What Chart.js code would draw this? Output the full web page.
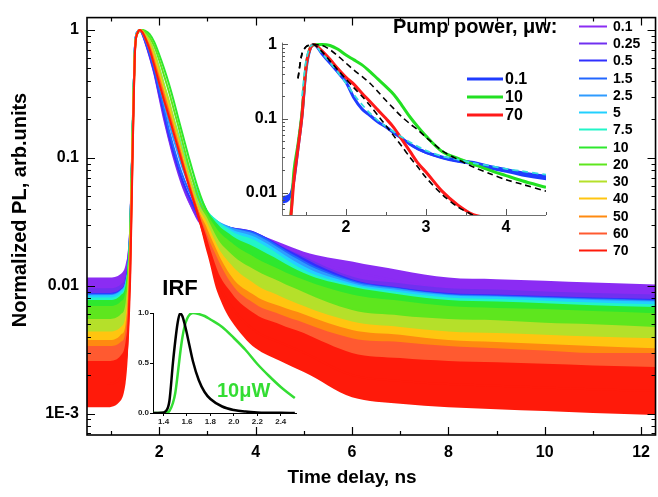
<!DOCTYPE html>
<html>
<head>
<meta charset="utf-8">
<script src="https://cdn.jsdelivr.net/npm/chart.js@4.4.1/dist/chart.umd.min.js"></script>
<style>
  html, body { margin: 0; padding: 0; background: #fff; overflow: hidden; }
  #wrap { position: relative; width: 658px; height: 497px; }
  canvas { position: absolute; }
  #main { left: 0; top: 0; }
  #inset { left: 230px; top: 28px; }
  #irf { left: 118px; top: 303px; }
</style>
</head>
<body>
<div id="wrap">
  <canvas id="main" width="658" height="497"></canvas>
  <canvas id="inset" width="322" height="212"></canvas>
  <canvas id="irf" width="182" height="125"></canvas>
</div>
<script>
const FONT = '"Liberation Sans", Arial, Helvetica, sans-serif';

// main panel: time delay (ns) and normalized PL for each pump power
const delays = [0.5, 0.9, 1.2, 1.3, 1.35, 1.4, 1.45, 1.5, 1.55, 1.6, 1.65, 1.7, 1.8, 1.9, 2.0, 2.1, 2.2, 2.3, 2.4, 2.5, 2.6, 2.8, 3.0, 3.2, 3.5, 4.0, 4.5, 5.0, 6.0, 7.0, 8.0, 9.0, 10.0, 11.0, 12.3];
const powers = ['0.1', '0.25', '0.5', '1.5', '2.5', '5', '7.5', '10', '20', '30', '40', '50', '60', '70'];
const colors = ['#8b2cf3', '#7030f0', '#3030ff', '#2266ff', '#2e9bff', '#22d0ff', '#22f5c8', '#2ee82e', '#5ee61e', '#b5e02a', '#ffc510', '#ff8a10', '#ff5a30', '#ff1a0a'];

const pl01 = [0.0093, 0.0093, 0.0100, 0.0120, 0.016, 0.030, 0.17, 0.80, 0.97, 1.0, 0.93, 0.82, 0.62, 0.45, 0.30, 0.20, 0.14, 0.10, 0.075, 0.058, 0.047, 0.034, 0.029, 0.027, 0.026, 0.023, 0.019, 0.0158, 0.0129, 0.0108, 0.0093, 0.0090, 0.0087, 0.0084, 0.0081];
const pl025 = [0.0075, 0.0075, 0.0081, 0.0098, 0.014, 0.029, 0.17, 0.80, 0.97, 1.0, 0.93, 0.83, 0.63, 0.46, 0.31, 0.21, 0.145, 0.105, 0.078, 0.060, 0.049, 0.035, 0.029, 0.027, 0.026, 0.0235, 0.018, 0.0144, 0.0095, 0.0083, 0.0075, 0.0073, 0.0070, 0.0068, 0.0066];
const pl05 = [0.0068, 0.0068, 0.0074, 0.0090, 0.013, 0.028, 0.17, 0.79, 0.97, 1.0, 0.94, 0.84, 0.64, 0.47, 0.32, 0.22, 0.15, 0.11, 0.082, 0.064, 0.052, 0.037, 0.031, 0.028, 0.026, 0.0235, 0.018, 0.0139, 0.0090, 0.0076, 0.0068, 0.0066, 0.0064, 0.0062, 0.0060];
const pl15 = [0.0067, 0.0067, 0.0073, 0.0088, 0.013, 0.028, 0.17, 0.79, 0.97, 1.0, 0.95, 0.85, 0.66, 0.49, 0.34, 0.24, 0.165, 0.12, 0.09, 0.07, 0.057, 0.040, 0.033, 0.029, 0.026, 0.0232, 0.0175, 0.0132, 0.0088, 0.0075, 0.0067, 0.0065, 0.0063, 0.0061, 0.0059];
const pl25 = [0.0066, 0.0066, 0.0072, 0.0087, 0.012, 0.027, 0.17, 0.79, 0.97, 1.0, 0.96, 0.87, 0.70, 0.53, 0.38, 0.27, 0.19, 0.14, 0.105, 0.08, 0.064, 0.044, 0.035, 0.030, 0.026, 0.0224, 0.0168, 0.0126, 0.0086, 0.0074, 0.0066, 0.0064, 0.0062, 0.0060, 0.0058];
const pl5 = [0.0065, 0.0065, 0.0071, 0.0086, 0.012, 0.027, 0.17, 0.78, 0.97, 1.0, 0.97, 0.90, 0.75, 0.58, 0.43, 0.31, 0.22, 0.16, 0.12, 0.09, 0.072, 0.048, 0.036, 0.030, 0.025, 0.0212, 0.0158, 0.0117, 0.0083, 0.0072, 0.0065, 0.0063, 0.0061, 0.0059, 0.0057];
const pl75 = [0.0062, 0.0062, 0.0068, 0.0082, 0.012, 0.027, 0.18, 0.77, 0.96, 0.99, 0.99, 0.95, 0.82, 0.66, 0.50, 0.37, 0.27, 0.20, 0.15, 0.11, 0.085, 0.053, 0.037, 0.030, 0.024, 0.0198, 0.0147, 0.0109, 0.0080, 0.0069, 0.0062, 0.0060, 0.0058, 0.0056, 0.0054];
const pl10 = [0.0059, 0.0059, 0.0065, 0.0079, 0.012, 0.027, 0.19, 0.75, 0.94, 0.98, 1.0, 0.99, 0.93, 0.80, 0.64, 0.50, 0.38, 0.28, 0.20, 0.145, 0.105, 0.058, 0.037, 0.028, 0.022, 0.0172, 0.0132, 0.0102, 0.0077, 0.0066, 0.0059, 0.0057, 0.0055, 0.0053, 0.0051];
const pl20 = [0.0052, 0.0052, 0.0057, 0.0070, 0.011, 0.025, 0.18, 0.76, 0.95, 0.99, 1.0, 0.97, 0.88, 0.74, 0.58, 0.44, 0.33, 0.24, 0.175, 0.125, 0.09, 0.05, 0.034, 0.025, 0.019, 0.0139, 0.011, 0.0089, 0.0066, 0.0058, 0.0052, 0.0050, 0.0049, 0.0047, 0.0045];
const pl30 = [0.0040, 0.0040, 0.0044, 0.0055, 0.009, 0.022, 0.16, 0.76, 0.96, 1.0, 0.98, 0.93, 0.82, 0.66, 0.50, 0.37, 0.28, 0.20, 0.145, 0.105, 0.077, 0.044, 0.031, 0.021, 0.015, 0.0108, 0.0086, 0.0069, 0.0048, 0.0043, 0.0040, 0.0039, 0.0037, 0.0036, 0.0034];
const pl40 = [0.0031, 0.0031, 0.0034, 0.0043, 0.007, 0.019, 0.15, 0.75, 0.95, 1.0, 0.97, 0.90, 0.77, 0.60, 0.45, 0.33, 0.25, 0.18, 0.13, 0.095, 0.07, 0.04, 0.028, 0.018, 0.012, 0.0081, 0.0064, 0.0052, 0.0038, 0.0034, 0.0031, 0.0030, 0.0029, 0.0028, 0.0027];
const pl50 = [0.0026, 0.0026, 0.0029, 0.0036, 0.006, 0.017, 0.14, 0.74, 0.95, 1.0, 0.96, 0.89, 0.74, 0.56, 0.42, 0.31, 0.23, 0.17, 0.125, 0.09, 0.067, 0.038, 0.025, 0.016, 0.0095, 0.0064, 0.0052, 0.0044, 0.0032, 0.0029, 0.0026, 0.0025, 0.0024, 0.0023, 0.0022];
const pl60 = [0.0023, 0.0023, 0.0025, 0.0031, 0.005, 0.015, 0.13, 0.73, 0.95, 1.0, 0.96, 0.88, 0.72, 0.54, 0.40, 0.295, 0.22, 0.16, 0.12, 0.088, 0.065, 0.037, 0.022, 0.014, 0.0082, 0.0054, 0.0044, 0.0037, 0.0027, 0.0025, 0.0023, 0.0022, 0.0021, 0.0020, 0.0020];
const pl70 = [0.0017, 0.0017, 0.0019, 0.0025, 0.004, 0.013, 0.12, 0.72, 0.95, 1.0, 0.96, 0.88, 0.70, 0.52, 0.38, 0.28, 0.21, 0.155, 0.115, 0.085, 0.063, 0.036, 0.020, 0.011, 0.0068, 0.0044, 0.0036, 0.0030, 0.0020, 0.0018, 0.0017, 0.00165, 0.0016, 0.00155, 0.0015];
const plSeries = [pl01, pl025, pl05, pl15, pl25, pl5, pl75, pl10, pl20, pl30, pl40, pl50, pl60, pl70];

const xTicks = [2, 4, 6, 8, 10, 12];
const xMinorTicks = [1, 3, 5, 7, 9, 11];
const yTicks = [0.001, 0.01, 0.1, 1];
const yTickLabels = ['1E-3', '0.01', '0.1', '1'];

// upper inset: 0.1, 10 and 70 uW traces with fits
const insetDelays = [1.2, 1.3, 1.35, 1.4, 1.45, 1.5, 1.55, 1.6, 1.7, 1.8, 1.9, 2.0, 2.1, 2.2, 2.3, 2.4, 2.5, 2.6, 2.7, 2.8, 2.9, 3.0, 3.2, 3.4, 3.6, 3.8, 4.0, 4.2, 4.5];
const inset01 = [0.008, 0.009, 0.015, 0.04, 0.11, 0.45, 0.86, 1.0, 0.75, 0.56, 0.42, 0.31, 0.19, 0.135, 0.11, 0.09, 0.077, 0.064, 0.054, 0.045, 0.039, 0.035, 0.030, 0.027, 0.025, 0.022, 0.020, 0.018, 0.016];
const inset10 = [0.003, 0.004, 0.02, 0.045, 0.12, 0.5, 0.88, 0.99, 1.0, 0.97, 0.86, 0.72, 0.62, 0.53, 0.43, 0.34, 0.27, 0.21, 0.15, 0.105, 0.077, 0.058, 0.036, 0.029, 0.024, 0.020, 0.017, 0.0145, 0.0118];
const inset70 = [0.003, 0.004, 0.015, 0.04, 0.11, 0.5, 0.87, 1.0, 0.82, 0.63, 0.47, 0.36, 0.29, 0.22, 0.17, 0.13, 0.10, 0.075, 0.052, 0.036, 0.025, 0.019, 0.0105, 0.0068, 0.005, 0.0046, 0.004, null, null];
const fit10 = [null, null, null, 0.35, 0.75, 0.93, 0.99, 1.0, 0.97, 0.85, 0.70, 0.56, 0.45, 0.37, 0.30, 0.23, 0.175, 0.135, 0.105, 0.085, 0.07, 0.056, 0.037, 0.028, 0.022, 0.018, 0.015, 0.013, 0.0105];
const fit70 = [null, null, null, 0.35, 0.75, 0.93, 0.99, 1.0, 0.80, 0.60, 0.45, 0.34, 0.26, 0.20, 0.15, 0.11, 0.08, 0.058, 0.042, 0.030, 0.022, 0.016, 0.0095, 0.0064, 0.0049, null, null, null, null];
const fit01 = [null, null, null, null, 0.2, 0.6, 0.92, 1.0, 0.76, 0.57, 0.42, 0.30, 0.21, 0.155, 0.118, 0.094, 0.078, 0.066, 0.056, 0.048, 0.042, 0.037, 0.031, 0.028, 0.025, 0.023, 0.021, 0.0195, 0.0175];
const insetLegend = ['0.1', '10', '70'];
const insetColors = ['#1f3cff', '#22e022', '#ff1a1a'];

// lower inset: IRF and 10 uW trace, linear scale
const irfDelays = [1.31, 1.38, 1.42, 1.45, 1.48, 1.5, 1.52, 1.54, 1.56, 1.58, 1.6, 1.62, 1.65, 1.7, 1.75, 1.8, 1.9, 2.0, 2.1, 2.2, 2.3, 2.4, 2.52];
const irf = [0, 0.003, 0.02, 0.12, 0.5, 0.72, 0.9, 0.995, 0.97, 0.89, 0.79, 0.68, 0.52, 0.33, 0.21, 0.14, 0.065, 0.03, 0.014, 0.006, 0.003, 0.0015, 0.001];
const irf10 = [0, 0, 0.003, 0.02, 0.1, 0.2, 0.38, 0.58, 0.75, 0.87, 0.94, 0.98, 1.0, 0.99, 0.97, 0.935, 0.86, 0.75, 0.63, 0.49, 0.37, 0.26, 0.15];
const irfXTicks = [1.4, 1.6, 1.8, 2.0, 2.2, 2.4];
const irfYTicks = [0, 0.5, 1.0];

function points(xs, ys) {
  return xs.map((x, i) => ({ x, y: ys[i] }));
}

// counting noise: a vertical band round each trace, wider where the signal is low
function noiseHalf(noise, v) {
  return v > 0 && v < noise.ref ? 0.5 * noise.k * Math.log10(noise.ref / v) : 0;
}

const noiseBands = {
  id: 'noiseBands',
  beforeDatasetDraw(chart, args) {
    const ds = chart.data.datasets[args.index];
    if (!ds.noise) return;
    const pts = args.meta.data;
    const h = ds.data.map(d => noiseHalf(ds.noise, d.y));
    const a = chart.chartArea;
    const ctx = chart.ctx;
    ctx.save();
    ctx.beginPath();
    ctx.rect(a.left, a.top, a.right - a.left, a.bottom - a.top);
    ctx.clip();
    ctx.beginPath();
    ctx.moveTo(pts[0].x, pts[0].y - h[0]);
    for (let j = 1; j < pts.length; j++) {
      const p = pts[j - 1], q = pts[j];
      ctx.bezierCurveTo(p.cp2x, p.cp2y - h[j - 1], q.cp1x, q.cp1y - h[j], q.x, q.y - h[j]);
    }
    const n = pts.length - 1;
    ctx.lineTo(pts[n].x, pts[n].y + h[n]);
    for (let j = n; j > 0; j--) {
      const p = pts[j - 1], q = pts[j];
      ctx.bezierCurveTo(q.cp1x, q.cp1y + h[j], p.cp2x, p.cp2y + h[j - 1], p.x, p.y + h[j - 1]);
    }
    ctx.closePath();
    ctx.fillStyle = ds.borderColor;
    ctx.fill();
    ctx.restore();
  }
};

function logMinors(min, max) {
  const out = [];
  for (let e = Math.floor(Math.log10(min)); e <= Math.ceil(Math.log10(max)); e++) {
    for (let k = 2; k <= 9; k++) {
      const v = k * Math.pow(10, e);
      if (v > min && v < max) out.push(v);
    }
  }
  return out;
}

function drawTicks(chart, spec) {
  const { ctx, chartArea: a } = chart;
  const xs = chart.scales.x;
  const ys = chart.scales.y;
  ctx.save();
  ctx.strokeStyle = spec.color;
  ctx.lineWidth = spec.lineWidth;
  ctx.beginPath();
  const xMarks = spec.xMajor.map(v => [v, spec.major]).concat(spec.xMinor.map(v => [v, spec.minor]));
  const yMarks = spec.yMajor.map(v => [v, spec.major]).concat(spec.yMinor.map(v => [v, spec.minor]));
  xMarks.forEach(([v, len]) => {
    const px = Math.round(xs.getPixelForValue(v)) + 0.5;
    if (spec.bottom) { ctx.moveTo(px, a.bottom); ctx.lineTo(px, a.bottom - len); }
    if (spec.top) { ctx.moveTo(px, a.top); ctx.lineTo(px, a.top + len); }
  });
  yMarks.forEach(([v, len]) => {
    const py = Math.round(ys.getPixelForValue(v)) + 0.5;
    if (spec.left) { ctx.moveTo(a.left, py); ctx.lineTo(a.left + len, py); }
    if (spec.right) { ctx.moveTo(a.right, py); ctx.lineTo(a.right - len, py); }
  });
  ctx.stroke();
  ctx.restore();
}

function fixedTicks(values) {
  return scale => { scale.ticks = values.map(value => ({ value })); };
}

const boldTicks = size => ({ family: FONT, size, weight: 'bold' });

const mainDecor = {
  id: 'mainDecor',
  afterDatasetsDraw(chart) {
    const { ctx, chartArea: a } = chart;
    drawTicks(chart, {
      xMajor: xTicks, xMinor: xMinorTicks,
      yMajor: yTicks, yMinor: logMinors(0.00068, 1.25),
      major: 8, minor: 4, color: '#000', lineWidth: 1.2,
      top: true, bottom: true, left: true, right: true
    });
    ctx.save();
    ctx.strokeStyle = '#000';
    ctx.lineWidth = 1.6;
    ctx.strokeRect(a.left, a.top, a.right - a.left, a.bottom - a.top);

    ctx.fillStyle = '#000';
    ctx.textBaseline = 'middle';
    ctx.font = `bold 19px ${FONT}`;
    ctx.textAlign = 'center';
    ctx.fillText('Time delay, ns', 352, 478);
    ctx.save();
    ctx.translate(20, 210);
    ctx.rotate(-Math.PI / 2);
    ctx.font = `bold 20px ${FONT}`;
    ctx.fillText('Normalized PL, arb.units', 0, 0);
    ctx.restore();

    ctx.textAlign = 'left';
    ctx.font = `bold 20px ${FONT}`;
    ctx.fillText('Pump power, \u03bcw:', 393, 27);

    ctx.font = `bold 14px ${FONT}`;
    powers.forEach((p, i) => {
      const y = Math.round(26 + i * 17.23) + 0.5;
      ctx.strokeStyle = colors[i];
      ctx.lineWidth = 2;
      ctx.beginPath();
      ctx.moveTo(579, y);
      ctx.lineTo(607, y);
      ctx.stroke();
      ctx.fillStyle = '#000';
      ctx.fillText(p, 613, y + 1);
    });

    ctx.font = `bold 16px ${FONT}`;
    insetLegend.forEach((p, i) => {
      const y = 79 + i * 18;
      ctx.strokeStyle = insetColors[i];
      ctx.lineWidth = 3;
      ctx.beginPath();
      ctx.moveTo(467, y);
      ctx.lineTo(503, y);
      ctx.stroke();
      ctx.fillStyle = '#000';
      ctx.fillText(p, 505, y + 1);
    });

    ctx.textAlign = 'center';
    ctx.font = `bold 22px ${FONT}`;
    ctx.fillText('IRF', 180, 289);
    ctx.textAlign = 'left';
    ctx.fillStyle = '#33dd33';
    ctx.font = `bold 20px ${FONT}`;
    ctx.fillText('10\u03bcW', 217, 391);
    ctx.restore();
  }
};

new Chart(document.getElementById('main'), {
  type: 'line',
  data: {
    datasets: powers.map((p, i) => ({
      label: p,
      data: points(delays, plSeries[i]),
      borderColor: colors[i],
      borderWidth: 2,
      cubicInterpolationMode: 'monotone',
      pointRadius: 0,
      clip: 0,
      order: powers.length - i,
      noise: { k: 30, ref: 0.06 }
    }))
  },
  options: {
    responsive: false,
    animation: false,
    layout: { padding: { top: 4, right: 1, left: 0, bottom: 0 } },
    plugins: { legend: { display: false }, tooltip: { enabled: false } },
    scales: {
      x: {
        type: 'linear', min: 0.5, max: 12.3,
        grid: { display: false, drawTicks: false },
        border: { display: false },
        afterBuildTicks: fixedTicks(xTicks),
        afterFit: s => { s.height = 62; },
        ticks: { font: boldTicks(16), color: '#000', padding: 8, maxRotation: 0, autoSkip: false }
      },
      y: {
        type: 'logarithmic', min: 0.00068, max: 1.25,
        grid: { display: false, drawTicks: false },
        border: { display: false },
        afterBuildTicks: fixedTicks(yTicks),
        afterFit: s => { s.width = 87; },
        ticks: {
          font: boldTicks(16), color: '#000', padding: 8, autoSkip: false,
          callback: v => yTickLabels[yTicks.indexOf(v)] || ''
        }
      }
    }
  },
  plugins: [noiseBands, mainDecor]
});

const insetDecor = {
  id: 'insetDecor',
  afterDatasetsDraw(chart) {
    const { ctx, chartArea: a } = chart;
    ctx.save();
    ctx.strokeStyle = '#707070';
    ctx.lineWidth = 1;
    ctx.beginPath();
    ctx.moveTo(a.left + 0.5, a.top);
    ctx.lineTo(a.left + 0.5, a.bottom + 0.5);
    ctx.lineTo(a.right, a.bottom + 0.5);
    ctx.stroke();
    ctx.restore();
    drawTicks(chart, {
      xMajor: [2, 3, 4], xMinor: [1.5, 2.5, 3.5, 4.5],
      yMajor: [0.01, 0.1, 1], yMinor: logMinors(0.005, 1.06),
      major: 6, minor: 3, color: '#555', lineWidth: 1,
      bottom: true, left: true
    });
  }
};

new Chart(document.getElementById('inset'), {
  type: 'line',
  data: {
    datasets: [
      { data: points(insetDelays, fit10), borderColor: '#000', borderWidth: 1.6, borderDash: [6, 4], tension: 0.3 },
      { data: points(insetDelays, fit70), borderColor: '#000', borderWidth: 1.6, borderDash: [6, 4], tension: 0.3 },
      { data: points(insetDelays, fit01), borderColor: '#33dddd', borderWidth: 1.8, borderDash: [6, 4], tension: 0.3 },
      { data: points(insetDelays, inset70), borderColor: insetColors[2], borderWidth: 3, cubicInterpolationMode: 'monotone' },
      { data: points(insetDelays, inset10), borderColor: insetColors[1], borderWidth: 3, cubicInterpolationMode: 'monotone' },
      { data: points(insetDelays, inset01), borderColor: insetColors[0], borderWidth: 3, cubicInterpolationMode: 'monotone',
        noise: { k: 7, ref: 0.1 } }
    ].map(d => Object.assign({ pointRadius: 0, clip: 0 }, d))
  },
  options: {
    responsive: false,
    animation: false,
    layout: { padding: { top: 10, right: 6, left: 0, bottom: 0 } },
    plugins: { legend: { display: false }, tooltip: { enabled: false } },
    scales: {
      x: {
        type: 'linear', min: 1.2, max: 4.5,
        grid: { display: false, drawTicks: false },
        border: { display: false },
        afterBuildTicks: fixedTicks([2, 3, 4]),
        afterFit: s => { s.height = 25; },
        ticks: { font: boldTicks(16), color: '#000', padding: 3, maxRotation: 0, autoSkip: false }
      },
      y: {
        type: 'logarithmic', min: 0.005, max: 1.06,
        grid: { display: false, drawTicks: false },
        border: { display: false },
        afterBuildTicks: fixedTicks([0.01, 0.1, 1]),
        afterFit: s => { s.width = 52; },
        ticks: { font: boldTicks(16), color: '#000', padding: 5, autoSkip: false, callback: v => String(v) }
      }
    }
  },
  plugins: [noiseBands, insetDecor]
});

new Chart(document.getElementById('irf'), {
  type: 'line',
  data: {
    datasets: [
      { data: points(irfDelays, irf), borderColor: '#000', borderWidth: 2.5 },
      { data: points(irfDelays, irf10), borderColor: '#33dd33', borderWidth: 2.5 }
    ].map(d => Object.assign({ pointRadius: 0, cubicInterpolationMode: 'monotone' }, d))
  },
  options: {
    responsive: false,
    animation: false,
    layout: { padding: { top: 10, right: 4, left: 0, bottom: 0 } },
    plugins: { legend: { display: false }, tooltip: { enabled: false } },
    scales: {
      x: {
        type: 'linear', min: 1.31, max: 2.53,
        grid: { drawOnChartArea: false, drawTicks: true, tickLength: 3, color: '#000' },
        border: { color: '#000', width: 1 },
        afterBuildTicks: fixedTicks(irfXTicks),
        afterFit: s => { s.height = 15; },
        ticks: { font: boldTicks(8), color: '#222', padding: 1, maxRotation: 0, autoSkip: false, callback: v => v.toFixed(1) }
      },
      y: {
        type: 'linear', min: 0, max: 1,
        grid: { drawOnChartArea: false, drawTicks: true, tickLength: 3, color: '#000' },
        border: { color: '#000', width: 1 },
        afterBuildTicks: fixedTicks(irfYTicks),
        afterFit: s => { s.width = 35; },
        ticks: { font: boldTicks(8), color: '#222', padding: 1, autoSkip: false, callback: v => v.toFixed(1) }
      }
    }
  }
});
</script>
</body>
</html>
